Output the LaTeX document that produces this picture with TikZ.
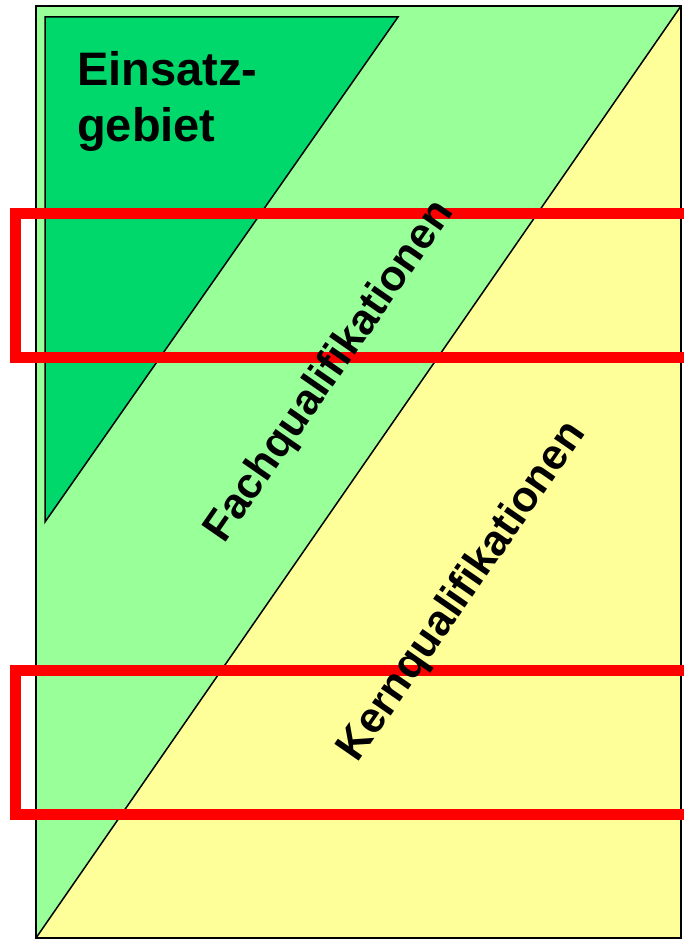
\documentclass[tikz,border=0pt]{standalone}
\usepackage{fontspec}
\setmainfont{Liberation Sans}
\definecolor{darkgreen}{RGB}{0,216,108}
\definecolor{lightgreen}{RGB}{153,255,153}
\definecolor{paleyellow}{RGB}{255,255,153}
\definecolor{markred}{RGB}{255,0,0}
\begin{document}
\begin{tikzpicture}[x=1pt,y=-1pt,
  edge/.style={draw=black,line width=1.5pt,line join=miter},
  frame/.style={draw=markred,line width=11pt,line join=miter},
  bigtext/.style={inner sep=0pt,font=\bfseries\fontsize{47}{55}\selectfont},
  diagtext/.style={inner sep=0pt,rotate=55.3,font=\bfseries\fontsize{43}{50}\selectfont}]
\clip (0,0) rectangle (684,939);
% background regions
\fill[lightgreen] (36,6) -- (681,6) -- (36,938) -- cycle;
\fill[paleyellow] (681,6) -- (681,938) -- (36,938) -- cycle;
\coordinate (tr) at (681,6);
\coordinate (bl) at (36,938);
\draw[edge] (tr) -- (bl);
\draw[edge,line width=2pt] (36,6) rectangle (681,938);
% Einsatzgebiet triangle
\filldraw[edge,fill=darkgreen] (45,17) -- (398,17) -- (45,522) -- cycle;
% red frames
\draw[frame] (700,213.5) -- (15,213.5) -- (15,357.5) -- (700,357.5);
\draw[frame] (700,670.5) -- (15,670.5) -- (15,814.5) -- (700,814.5);
% texts
\node[bigtext,anchor=base west] (einsatz) at (77,86) {Einsatz-};
\node[bigtext,anchor=base west] (gebiet) at (77,141) {gebiet};
\node[diagtext] (fach) at (330,372) {Fachqualifikationen};
\node[diagtext] (kern) at (463,592) {Kernqualifikationen};
\end{tikzpicture}
\end{document}
